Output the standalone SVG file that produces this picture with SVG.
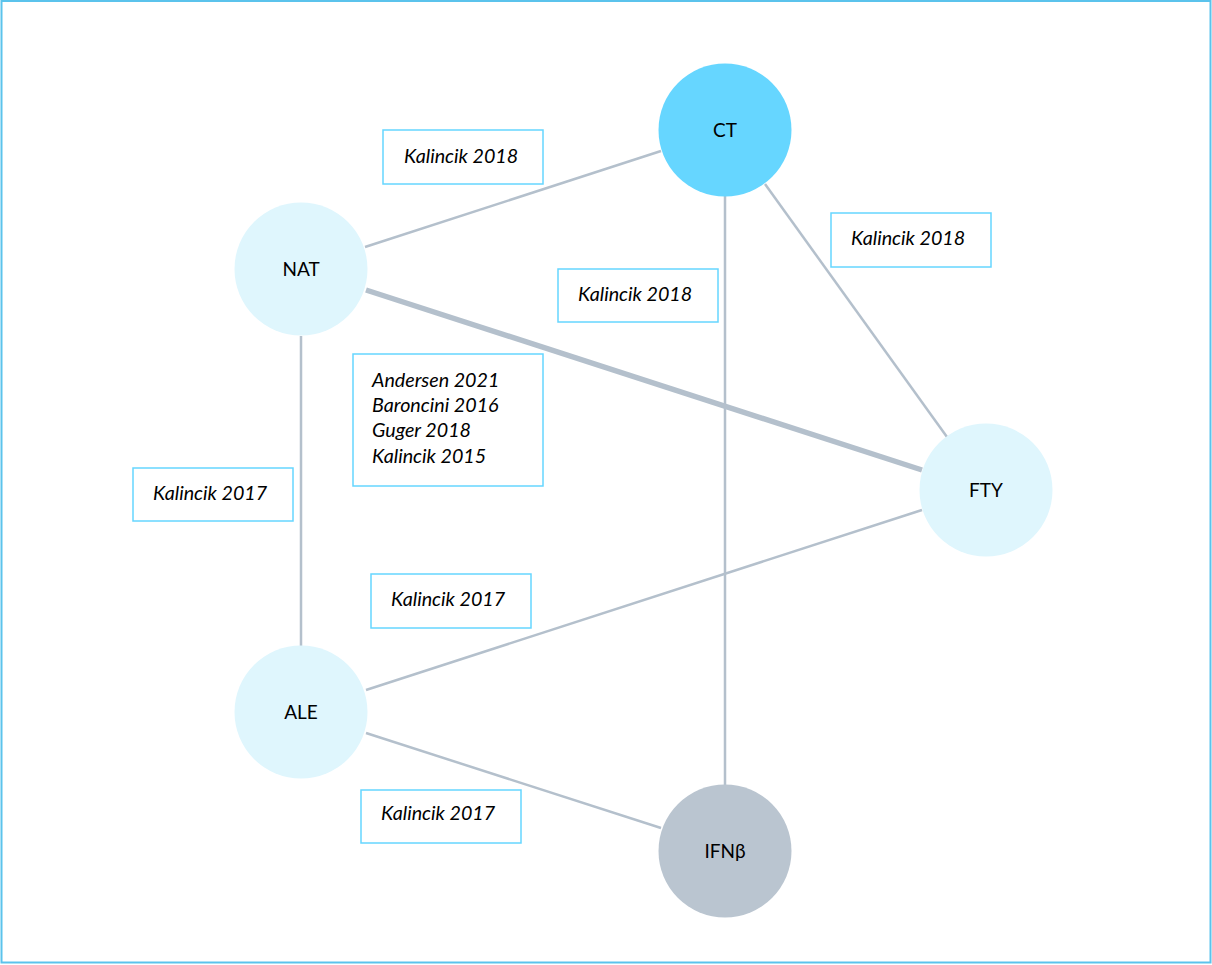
<svg xmlns="http://www.w3.org/2000/svg" width="1212" height="965" viewBox="0 0 1212 965">
<style>
.edge{stroke:#b4c0cc;stroke-width:2.5;fill:none}
.thick{stroke:#b4c0cc;stroke-width:5.5;fill:none}
.box{fill:#fff;stroke:#66d6ff;stroke-width:1.5}
.lbl{font-family:Lato,"Liberation Sans",sans-serif;font-style:italic;font-size:19.7px;fill:#000}
.nt{font-family:Lato,"Liberation Sans",sans-serif;font-size:19px;fill:#000;text-anchor:middle}
.light{fill:#dff6fd}
</style>
<rect x="1.5" y="1" width="1209" height="961.5" fill="#fff" stroke="#5bc3ec" stroke-width="2"/>
<g id="connectors">
<line class="edge" x1="365" y1="247" x2="661" y2="151"/>
<line class="thick" x1="366" y1="290" x2="922" y2="470"/>
<line class="edge" x1="765" y1="184" x2="947" y2="437"/>
<line class="edge" x1="725" y1="196" x2="725" y2="785"/>
<line class="edge" x1="301" y1="336" x2="301" y2="646"/>
<line class="edge" x1="366" y1="690" x2="922" y2="510"/>
<line class="edge" x1="366" y1="733" x2="661" y2="828"/>
</g>
<g id="labels">
<g id="l1"><rect class="box" x="383" y="130" width="160" height="54"/><text class="lbl" x="404" y="163">Kalincik 2018</text></g>
<g id="l2"><rect class="box" x="831" y="213" width="160" height="54"/><text class="lbl" x="851" y="245">Kalincik 2018</text></g>
<g id="l3"><rect class="box" x="558" y="269" width="160" height="53"/><text class="lbl" x="578" y="301">Kalincik 2018</text></g>
<g id="l4"><rect class="box" x="353" y="354" width="190" height="132"/>
<text class="lbl" x="372" y="387">Andersen 2021</text>
<text class="lbl" x="372" y="412">Baroncini 2016</text>
<text class="lbl" x="372" y="437">Guger 2018</text>
<text class="lbl" x="372" y="463">Kalincik 2015</text></g>
<g id="l5"><rect class="box" x="133" y="468" width="160" height="53"/><text class="lbl" x="153" y="500">Kalincik 2017</text></g>
<g id="l6"><rect class="box" x="371" y="574" width="160" height="54"/><text class="lbl" x="391" y="606">Kalincik 2017</text></g>
<g id="l7"><rect class="box" x="361" y="790" width="160" height="53"/><text class="lbl" x="381" y="820">Kalincik 2017</text></g>
</g>
<g id="node-CT"><circle cx="725" cy="130" r="66.5" fill="#66d6ff"/><text class="nt" x="725" y="137">CT</text></g>
<g id="node-NAT"><circle class="light" cx="301" cy="269" r="66.5"/><text class="nt" x="301" y="276">NAT</text></g>
<g id="node-FTY"><circle class="light" cx="986" cy="490" r="66.5"/><text class="nt" x="986" y="497">FTY</text></g>
<g id="node-ALE"><circle class="light" cx="301" cy="712" r="66.5"/><text class="nt" x="301" y="719">ALE</text></g>
<g id="node-IFN"><circle cx="725" cy="851" r="66.5" fill="#bac5d0"/><text class="nt" x="725" y="858">IFNβ</text></g>
</svg>
